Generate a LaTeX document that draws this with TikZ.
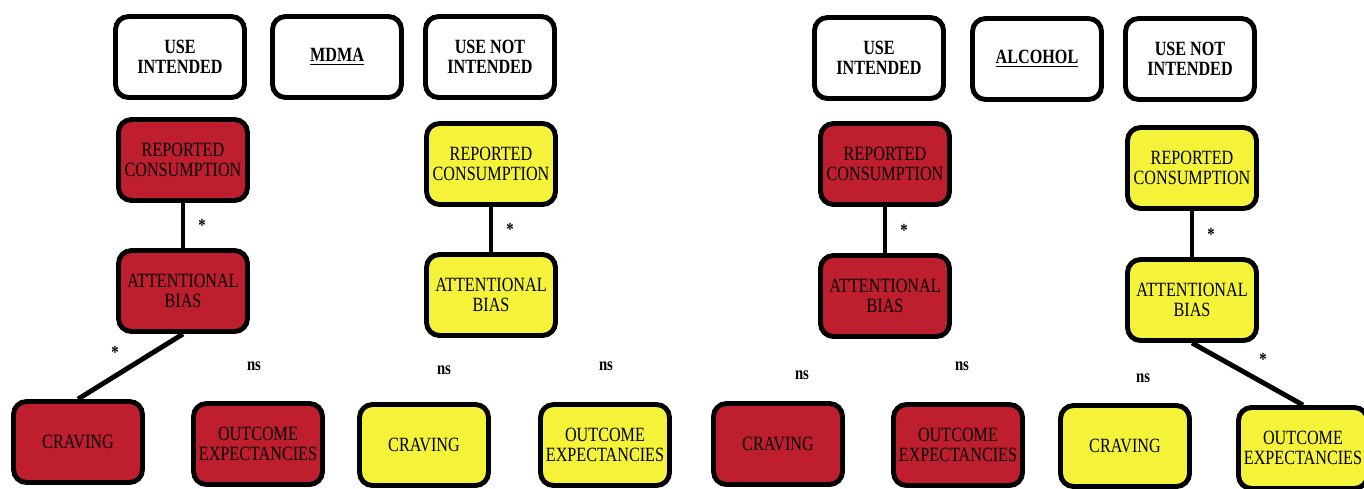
\documentclass[tikz,border=0pt]{standalone}
\usepackage{fontspec}
\setmainfont[FakeStretch=0.8]{Liberation Serif}
\usetikzlibrary{positioning}
\definecolor{CueRed}{HTML}{BE1E2D}
\definecolor{CueYellow}{HTML}{F5F23A}

\begin{document}
\begin{tikzpicture}[x=0.02cm, y=-0.02cm, line width=2.8pt,
    every node/.style={font=\fontsize{11.5}{11}\selectfont},
    box/.style={draw, rounded corners=0.26cm, align=center, minimum width=2.58cm, minimum height=1.62cm, inner sep=1pt},
    head/.style={box, fill=white, font=\fontsize{11.5}{11.5}\selectfont\bfseries},
    hot/.style={box, fill=CueRed},
    cold/.style={box, fill=CueYellow},
    ns/.style={font=\fontsize{10.5}{11}\selectfont\bfseries}]
      \useasboundingbox (0,0) rectangle (1364,488);
      % MDMA side
      \node[head] (intendA) at (180,57) {USE\\INTENDED};
      \node[head] (mdma) at (337,57) {\underline{MDMA}};
      \node[head] (notintendA) at (490,57) {USE NOT\\INTENDED};
      \node[hot] (consA) at (183,160) {REPORTED\\CONSUMPTION};
      \node[cold] (consB) at (491,164) {REPORTED\\CONSUMPTION};
      \node[hot] (biasA) at (183,291) {ATTENTIONAL\\BIAS};
      \node[cold] (biasB) at (491,295) {ATTENTIONAL\\BIAS};
      \node[hot] (cravA) at (78,442) {CRAVING};
      \node[hot] (outA) at (258,444) {OUTCOME\\EXPECTANCIES};
      \node[cold] (cravB) at (424,445) {CRAVING};
      \node[cold] (outB) at (605,445) {OUTCOME\\EXPECTANCIES};
      % alcohol side
      \node[head] (intendC) at (879,58) {USE\\INTENDED};
      \node[head] (alcohol) at (1037,59) {\underline{ALCOHOL}};
      \node[head] (notintendC) at (1190,59) {USE NOT\\INTENDED};
      \node[hot] (consC) at (885,164) {REPORTED\\CONSUMPTION};
      \node[cold] (consD) at (1192,168) {REPORTED\\CONSUMPTION};
      \node[hot] (biasC) at (885,296) {ATTENTIONAL\\BIAS};
      \node[cold] (biasD) at (1192,300) {ATTENTIONAL\\BIAS};
      \node[hot] (cravC) at (778,444) {CRAVING};
      \node[hot] (outC) at (958,445) {OUTCOME\\EXPECTANCIES};
      \node[cold] (cravD) at (1125,446) {CRAVING};
      \node[cold] (outD) at (1303,448) {OUTCOME\\EXPECTANCIES};
      % links
      \draw (consA) -- node[right=4pt, ns] {*} (biasA);
      \draw (consB) -- node[right=4pt, ns] {*} (biasB);
      \draw (consC) -- node[right=4pt, ns] {*} (biasC);
      \draw (consD) -- node[right=4pt, ns] {*} (biasD);
      \draw (biasA.south) -- node[above left=0pt and 2pt, ns] {*} (cravA.north);
      \draw (biasD.south) -- node[above right=0pt and 2pt, ns] {*} (outD.north);
      % non-significant paths
      \node[ns] (nsA) at (254,366) {ns};
      \node[ns] (nsB) at (444,370) {ns};
      \node[ns] (nsC) at (606,366) {ns};
      \node[ns] (nsD) at (802,375) {ns};
      \node[ns] (nsE) at (962,366) {ns};
      \node[ns] (nsF) at (1143,378) {ns};
    \end{tikzpicture}
\end{document}
